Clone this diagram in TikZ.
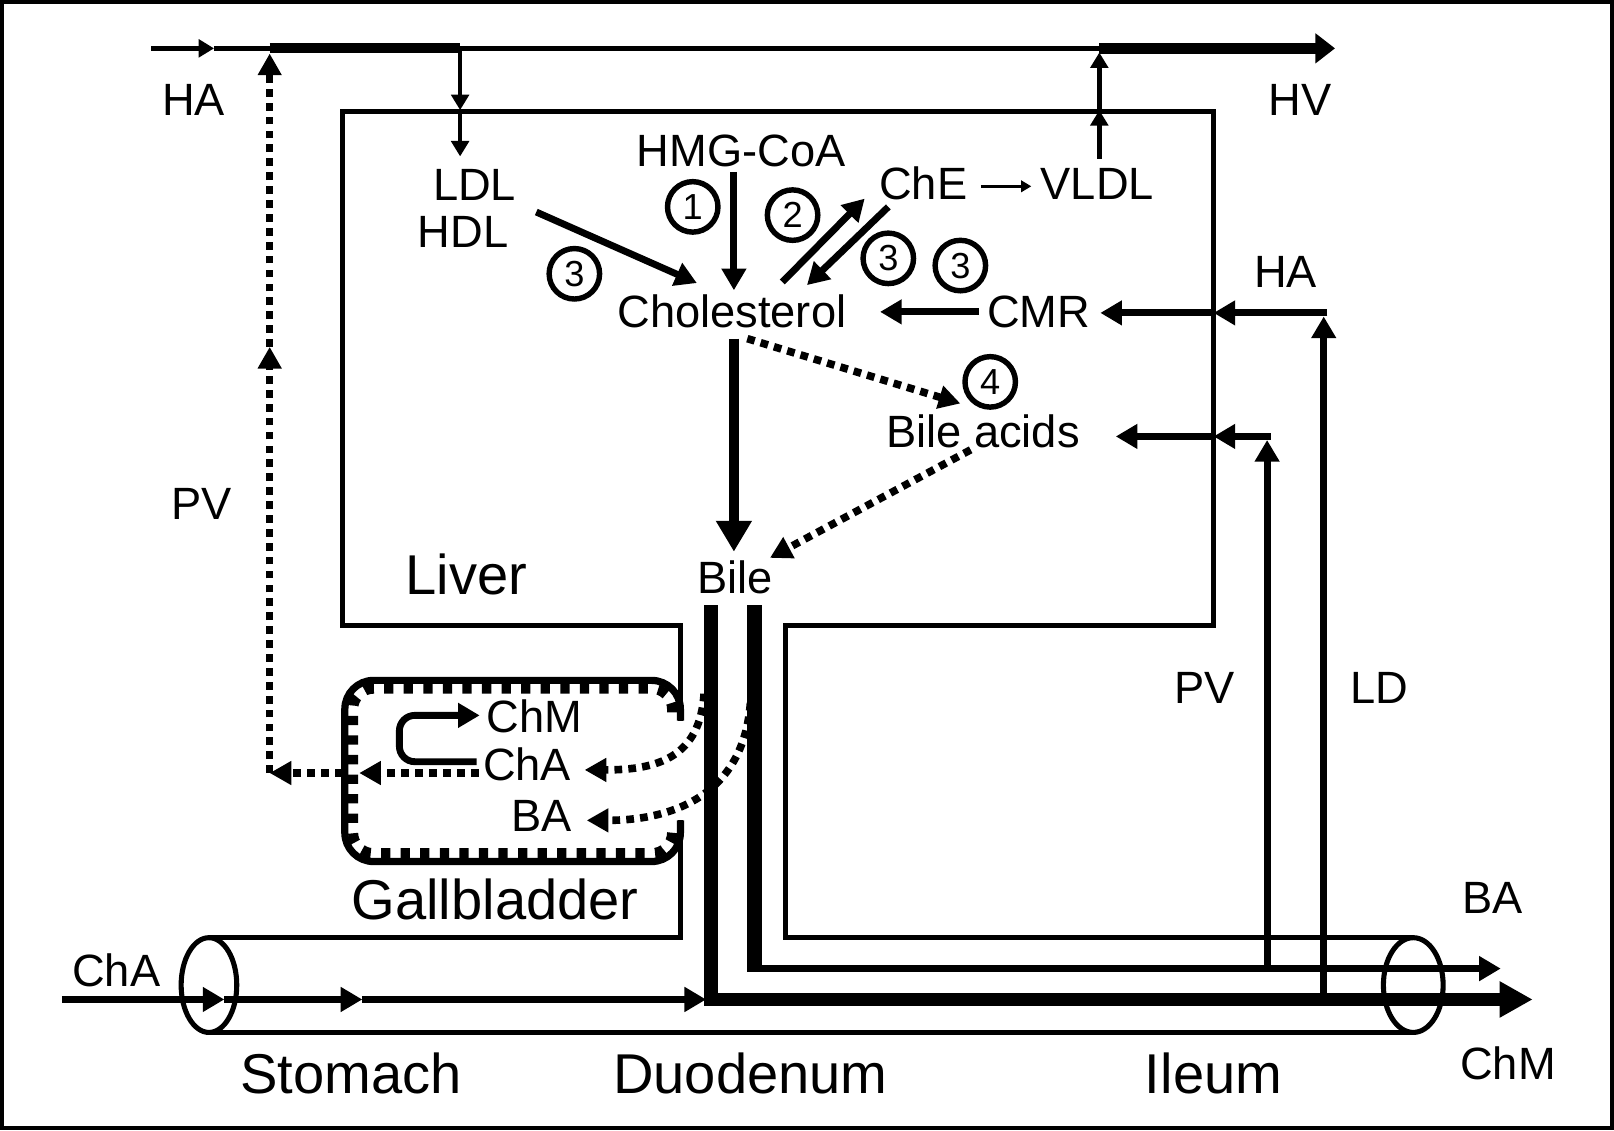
\documentclass[tikz,border=0pt]{standalone}
\usepackage{fontspec}
\setmainfont{Liberation Sans}
\usetikzlibrary{arrows.meta, positioning}

\tikzset{
  lbl/.style     = {inner sep=0pt, anchor=base, font=\fontsize{12.5}{14}\selectfont},
  organ/.style   = {inner sep=0pt, anchor=base, font=\fontsize{15.5}{18}\selectfont},
  num/.style     = {circle, draw, line width=1.5pt, minimum size=0.49cm, inner sep=0pt,
                    font=\fontsize{10}{10}\selectfont},
  wall/.style    = {line width=1.4pt},
  hair/.style    = {line width=0.9pt, -{Triangle[length=0.1cm, width=0.11cm]}},
  feed/.style    = {line width=1.3pt, -{Triangle[length=0.15cm, width=0.17cm]}},
  flow/.style    = {line width=1.9pt, -{Triangle[length=0.21cm, width=0.23cm]}},
  bigflow/.style = {line width=2.8pt, -{Triangle[length=0.3cm, width=0.33cm]}},
  dots/.style    = {line width=2.1pt, dash pattern=on 0.075cm off 0.06cm,
                    -{Triangle[length=0.21cm, width=0.22cm]}},
  duct/.style    = {line width=4.2pt},
  comb/.style    = {line width=2.8pt, dash pattern=on 0.09cm off 0.1cm}
}

\begin{document}
\begin{tikzpicture}[x=0.01cm, y=-0.01cm]
  \useasboundingbox (0,0) rectangle (1568,1098);
  \draw[line width=1.1pt] (2,2) rectangle (1566,1096);

  % liver, gut and gallbladder
  \draw[wall] (661,700) -- (661,608) -- (333,608) -- (333,108) -- (1179,108)
              -- (1179,608) -- (763,608) -- (763,911) -- (1373,911);
  \draw[wall] (203,911) -- (661,911) -- (661,797);
  \draw[wall] (203,1003) -- (1373,1003);
  \draw[wall] (203,957) ellipse [x radius=0.27cm, y radius=0.46cm];
  \draw[wall] (1373,957) ellipse [x radius=0.29cm, y radius=0.46cm];
  \draw[line width=2pt, rounded corners=0.28cm] (661,700) -- (661,661) -- (335,661)
        -- (335,837) -- (661,837) -- (661,797);
  \draw[comb, rounded corners=0.2cm] (653,692) -- (653,669) -- (343,669)
        -- (343,829) -- (653,829) -- (653,806);

  % labels
  \node[lbl] (haL)    at (188,112)  {HA};
  \node[lbl] (hv)     at (1263,112) {HV};
  \node[lbl] (ldl)    at (461,195)  {LDL};
  \node[lbl] (hdl)    at (450,240)  {HDL};
  \node[lbl] (hmg)    at (720,162)  {HMG-CoA};
  \node[lbl] (che)    at (897,194)  {ChE};
  \node[lbl] (vldl)   at (1066,194) {VLDL};
  \node[lbl] (chol)   at (711,318)  {Cholesterol};
  \node[lbl] (cmr)    at (1009,318) {CMR};
  \node[lbl] (haR)    at (1249,279) {HA};
  \node[lbl] (bac)    at (955,435)  {Bile acids};
  \node[lbl] (pvL)    at (196,505)  {PV};
  \node[lbl] (bile)   at (714,577)  {Bile};
  \node[organ] (liver) at (453,578) {Liver};
  \node[lbl] (pvR)    at (1170,683) {PV};
  \node[lbl] (ld)     at (1340,683) {LD};
  \node[lbl] (chmG)   at (519,712)  {ChM};
  \node[lbl] (chaG)   at (512,758)  {ChA};
  \node[lbl] (baG)    at (526,808)  {BA};
  \node[organ] (gb)   at (481,893)  {Gallbladder};
  \node[lbl] (chaIn)  at (113,958)  {ChA};
  \node[organ] (stomach) at (341,1062) {Stomach};
  \node[organ] (duod)  at (729,1062) {Duodenum};
  \node[organ] (ileum) at (1179,1062) {Ileum};
  \node[lbl] (baOut)  at (1450,887)  {BA};
  \node[lbl] (chmOut) at (1465,1049) {ChM};

  \node[num] (n1)  at (673,201) {1};
  \node[num] (n2)  at (770,209) {2};
  \node[num] (n3a) at (558,266) {3};
  \node[num] (n3b) at (863,251) {3};
  \node[num] (n3c) at (933,258) {3};
  \node[num] (n4)  at (962,371) {4};

  % hepatic artery and vein
  \coordinate (haS) at (147,47);   \coordinate (haM) at (208,47);
  \coordinate (pvT) at (262,47);   \coordinate (ldlT) at (447,47);
  \coordinate (vldlT) at (1068,47); \coordinate (hvE) at (1297,47);
  \draw[feed] (haS) -- (haM);
  \draw[line width=1.5pt] (haM) -- (pvT);
  \draw[line width=2.8pt] (pvT) -- (ldlT);
  \draw[line width=1.5pt] (ldlT) -- (vldlT);
  \draw[line width=3.2pt, -{Triangle[length=0.19cm, width=0.28cm]}] (vldlT) -- (hvE);

  \coordinate (ldlM) at (447,107);  \coordinate (ldlE) at (447,152);
  \coordinate (vldlS) at (1068,154); \coordinate (vldlM) at (1068,107);
  \coordinate (vldlE) at (1068,51);
  \draw[feed] (ldlT) -- (ldlM);
  \draw[feed] (ldlM) -- (ldlE);
  \draw[feed] (vldlS) -- (vldlM);
  \draw[feed] (vldlM) -- (vldlE);

  % inside the liver
  \coordinate (hmgA) at (713,167); \coordinate (hmgB) at (713,282);
  \coordinate (hdlA) at (521,206); \coordinate (hdlB) at (677,275);
  \coordinate (esA) at (760,274);  \coordinate (esB) at (840,193);
  \coordinate (hyA) at (863,201);  \coordinate (hyB) at (784,277);
  \coordinate (veA) at (953,181);  \coordinate (veB) at (1002,181);
  \coordinate (cmrA) at (951,303); \coordinate (cmrB) at (855,303);
  \coordinate (chA) at (713,329);  \coordinate (chB) at (713,536);
  \coordinate (syA) at (726,329);  \coordinate (syB) at (933,392);
  \coordinate (seA) at (943,437);  \coordinate (seB) at (748,542);
  \draw[flow] (hmgA) -- (hmgB);
  \draw[flow] (hdlA) -- (hdlB);
  \draw[flow] (esA) -- (esB);
  \draw[flow] (hyA) -- (hyB);
  \draw[hair] (veA) -- (veB);
  \draw[flow] (cmrA) -- (cmrB);
  \draw[bigflow] (chA) -- (chB);
  \draw[dots] (syA) -- (syB);
  \draw[dots] (seA) -- (seB);

  % portal vein and lymph duct
  \coordinate (pvB) at (1231,941); \coordinate (pvK) at (1231,424);
  \coordinate (lvP) at (1179,424); \coordinate (baP) at (1084,424);
  \coordinate (ldB) at (1286,971); \coordinate (ldK) at (1286,304);
  \coordinate (lvL) at (1179,304); \coordinate (cmrP) at (1069,304);
  \draw[flow, shorten >=0.035cm] (pvB) -- (pvK);
  \draw[flow] ([xshift=0.035cm]pvK) -- (lvP);
  \draw[flow] (lvP) -- (baP);
  \draw[flow, shorten >=0.035cm] (ldB) -- (ldK);
  \draw[flow] ([xshift=0.035cm]ldK) -- (lvL);
  \draw[flow] (lvL) -- (cmrP);

  % gallbladder
  \coordinate (pvC) at (262,751);  \coordinate (pvM) at (262,337);
  \coordinate (pvE) at (262,52);   \coordinate (gbL) at (333,751);
  \coordinate (chaD) at (465,751); \coordinate (gbI) at (349,751);
  \draw[dots] (gbL) -- (pvC);
  \draw[dots] (pvC) -- (pvM);
  \draw[dots] (pvM) -- (pvE);
  \draw[dots] (chaD) -- (gbI);
  \coordinate (chaL) at (463,740); \coordinate (chmL) at (466,695);
  \draw[flow, rounded corners=0.15cm] (chaL) -- (388,740) -- (388,695) -- (chmL);
  \coordinate (dL) at (684,674);   \coordinate (dR) at (729,683);
  \coordinate (chaT) at (568,748); \coordinate (baT) at (570,797);
  \draw[dots] (dL) .. controls (680,735) and (640,748) .. (chaT);
  \draw[dots] (dR) .. controls (722,775) and (650,797) .. (baT);

  % bile ducts and gut
  \coordinate (dlT) at (691,588);  \coordinate (dlB) at (691,971);
  \coordinate (chmE) at (1489,971);
  \coordinate (drT) at (733,588);  \coordinate (drB) at (733,941);
  \coordinate (baE) at (1458,941);
  \draw[line width=3.8pt, -{Triangle[length=0.32cm, width=0.33cm]}] (dlT) -- (dlB) -- (chmE);
  \draw[duct] (drT) -- ([yshift=-0.035cm]drB);
  \draw[flow] (drB) -- (baE);
  \coordinate (inS) at (60,971);   \coordinate (inM1) at (218,971);
  \coordinate (inM2) at (352,971); \coordinate (inE) at (686,971);
  \draw[flow] (inS) -- (inM1);
  \draw[flow] (inM1) -- (inM2);
  \draw[flow] (inM2) -- (inE);
\end{tikzpicture}
\end{document}
